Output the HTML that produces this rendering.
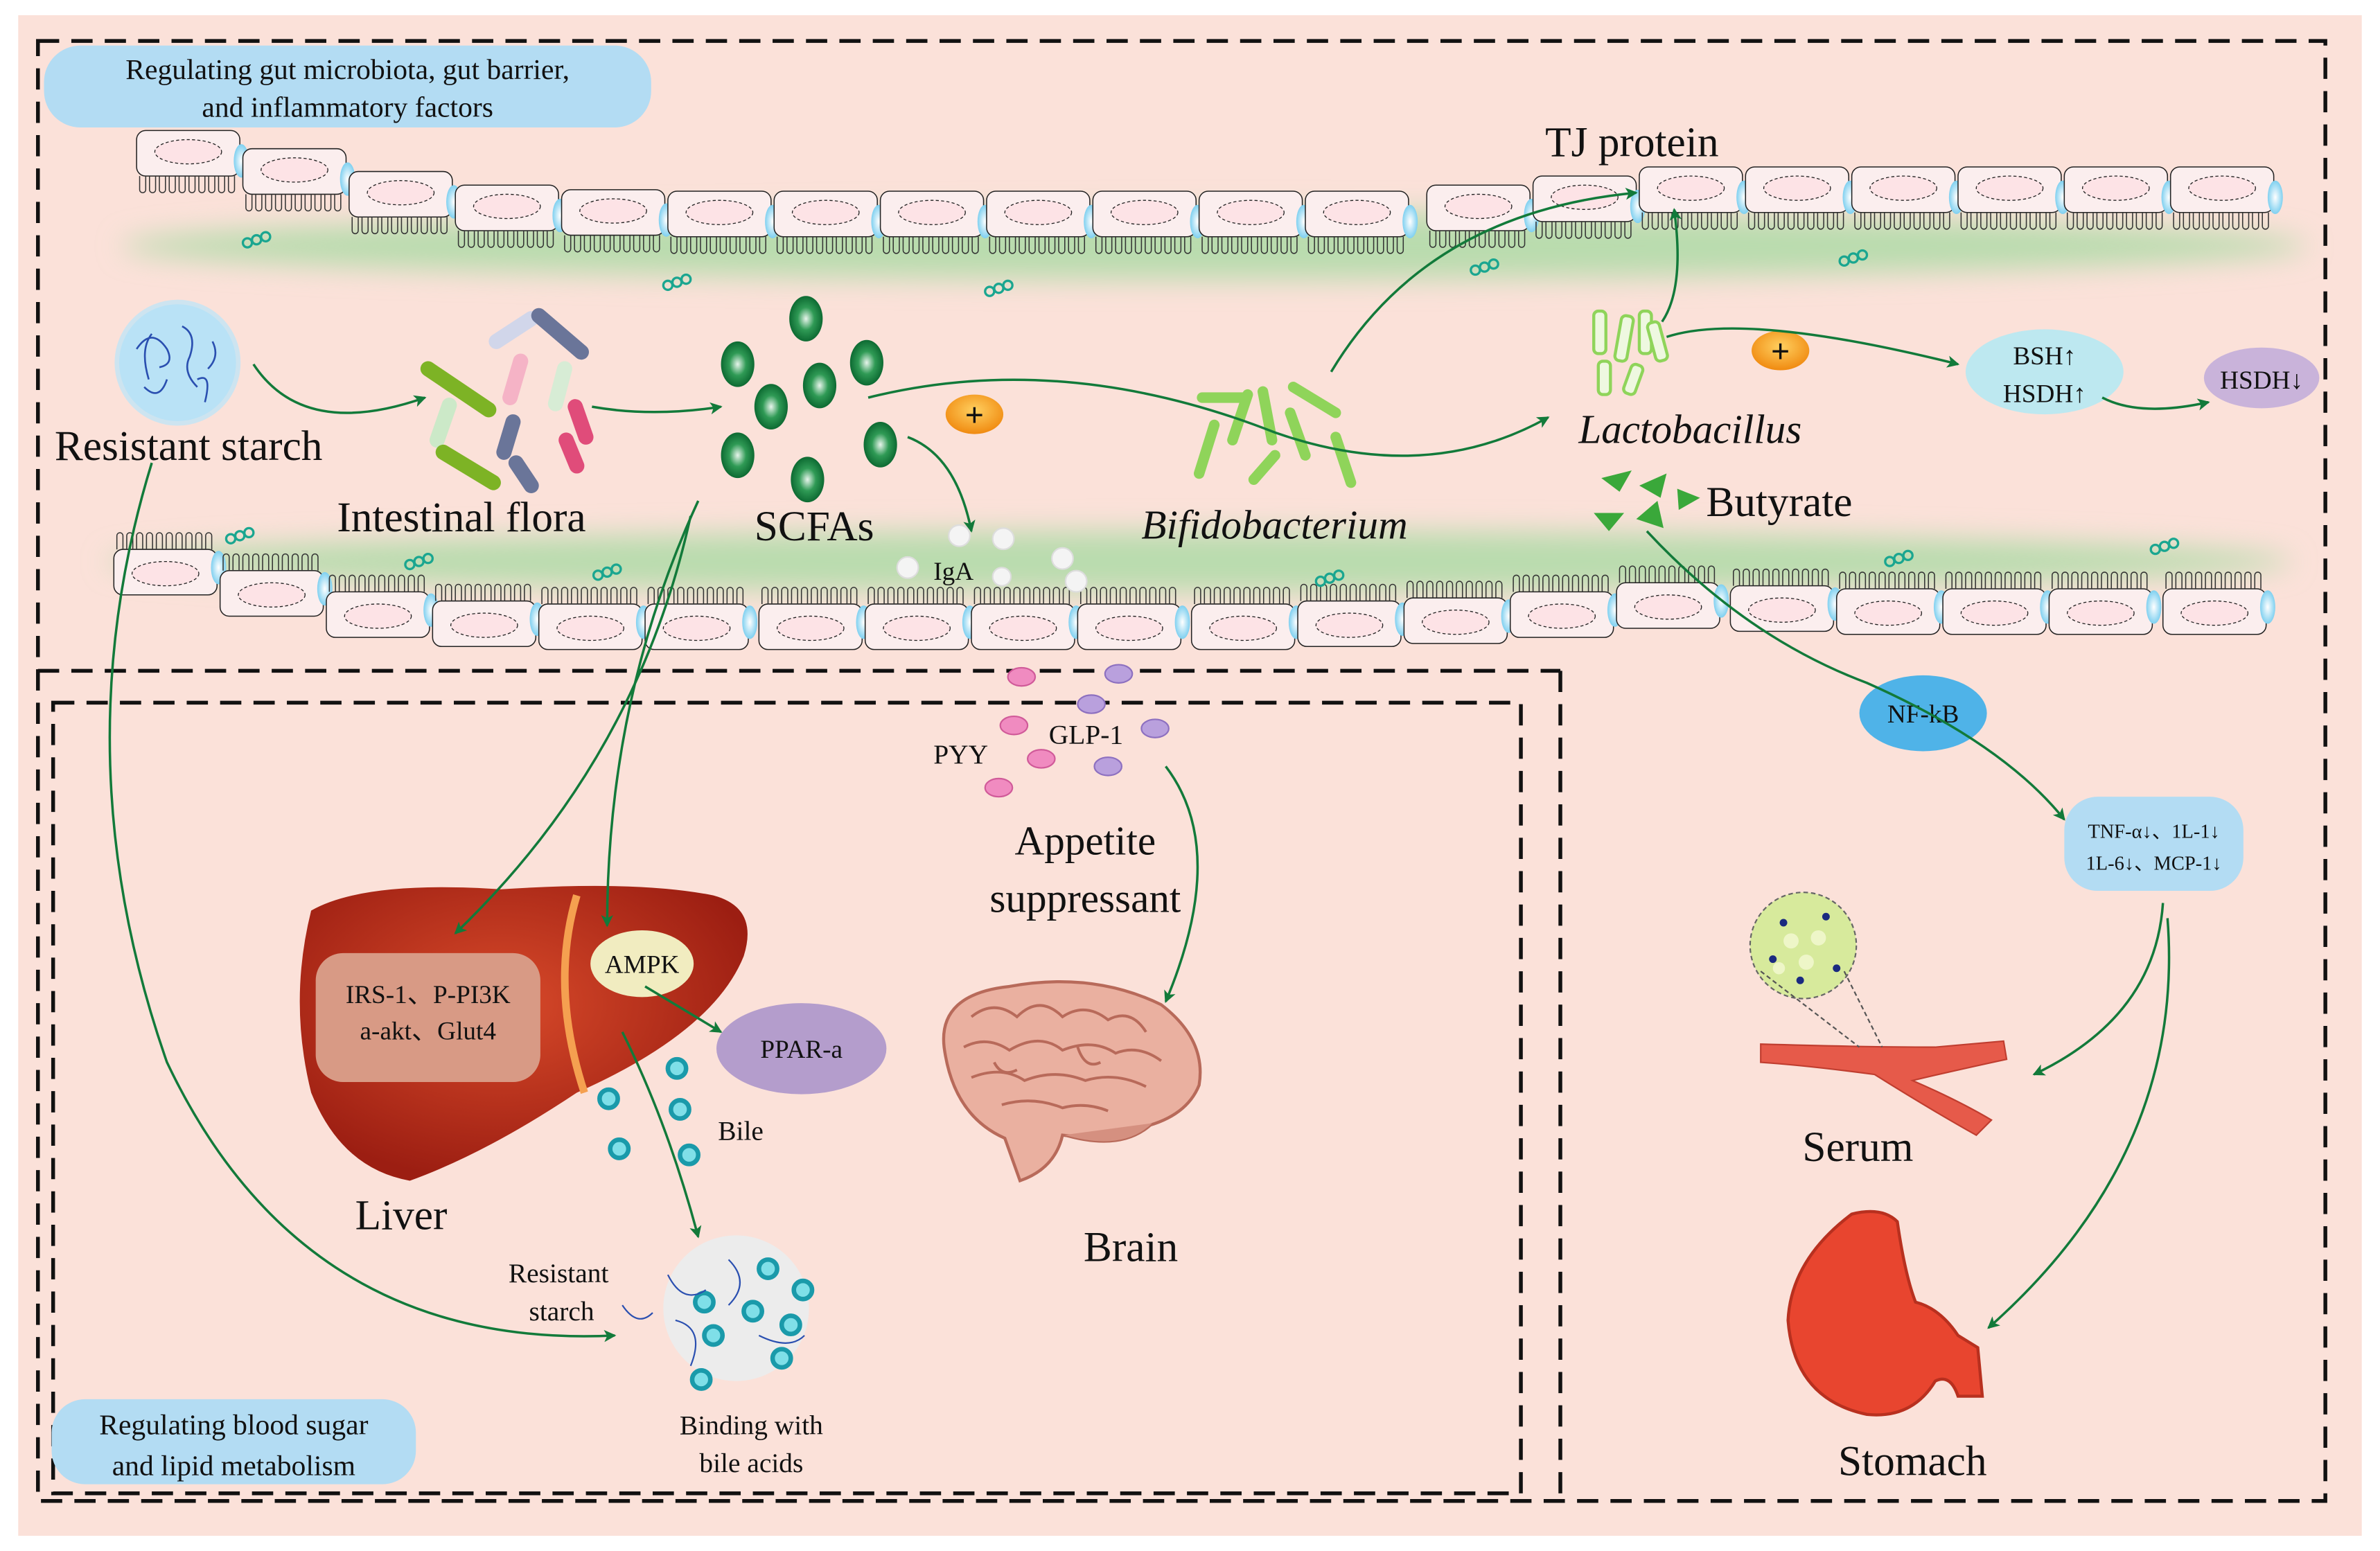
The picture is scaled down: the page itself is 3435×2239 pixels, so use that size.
<!DOCTYPE html>
<html><head><meta charset="utf-8">
<style>
html,body{margin:0;padding:0;background:#fff;}
svg{display:block;}
text{font-family:"Liberation Serif",serif;fill:#111;}
</style></head>
<body>
<svg width="3435" height="2239" viewBox="0 0 1568 1022" preserveAspectRatio="none" xmlns="http://www.w3.org/2000/svg" xmlns:xlink="http://www.w3.org/1999/xlink">
<defs>
<filter id="bl" x="-20%" y="-100%" width="140%" height="300%"><feGaussianBlur stdDeviation="9"/></filter>
<radialGradient id="gd" cx="50%" cy="50%" r="50%"><stop offset="0" stop-color="#e8f5ec"/><stop offset="0.5" stop-color="#2f9a55"/><stop offset="1" stop-color="#0d6a32"/></radialGradient>
<radialGradient id="bo" cx="50%" cy="50%" r="50%"><stop offset="0" stop-color="#ffffff"/><stop offset="1" stop-color="#7fd0f0"/></radialGradient>
<radialGradient id="or" cx="50%" cy="40%" r="60%"><stop offset="0" stop-color="#ffd060"/><stop offset="1" stop-color="#f08a10"/></radialGradient>
<radialGradient id="liv" cx="45%" cy="40%" r="60%"><stop offset="0" stop-color="#d84a2a"/><stop offset="1" stop-color="#9c1e12"/></radialGradient>
<marker id="ar" markerWidth="8" markerHeight="8" refX="7" refY="4" orient="auto" markerUnits="userSpaceOnUse"><path d="M0,0 L8,4 L0,8 L2,4Z" fill="#127a3a"/></marker>
<g id="cd">
<rect x="0" y="0" width="68" height="30" rx="6" fill="#fbeeee" stroke="#222" stroke-width="0.7"/>
<ellipse cx="34" cy="14" rx="22" ry="8" fill="#fde3e6" stroke="#222" stroke-width="0.6" stroke-dasharray="2,1.5"/>
<path d="M2,30 v9 a2,2 0 0 0 4,0 v-9 m2.5,0 v9 a2,2 0 0 0 4,0 v-9 m2.5,0 v9 a2,2 0 0 0 4,0 v-9 m2.5,0 v9 a2,2 0 0 0 4,0 v-9 m2.5,0 v9 a2,2 0 0 0 4,0 v-9 m2.5,0 v9 a2,2 0 0 0 4,0 v-9 m2.5,0 v9 a2,2 0 0 0 4,0 v-9 m2.5,0 v9 a2,2 0 0 0 4,0 v-9 m2.5,0 v9 a2,2 0 0 0 4,0 v-9 m2.5,0 v9 a2,2 0 0 0 4,0 v-9" fill="none" stroke="#333" stroke-width="0.7"/>
<ellipse cx="69" cy="20" rx="5" ry="11" fill="url(#bo)"/>
</g>
<g id="cu">
<rect x="0" y="0" width="68" height="30" rx="6" fill="#fbeeee" stroke="#222" stroke-width="0.7"/>
<ellipse cx="34" cy="16" rx="22" ry="8" fill="#fde3e6" stroke="#222" stroke-width="0.6" stroke-dasharray="2,1.5"/>
<path d="M2,0 v-9 a2,2 0 0 1 4,0 v9 m2.5,0 v-9 a2,2 0 0 1 4,0 v9 m2.5,0 v-9 a2,2 0 0 1 4,0 v9 m2.5,0 v-9 a2,2 0 0 1 4,0 v9 m2.5,0 v-9 a2,2 0 0 1 4,0 v9 m2.5,0 v-9 a2,2 0 0 1 4,0 v9 m2.5,0 v-9 a2,2 0 0 1 4,0 v9 m2.5,0 v-9 a2,2 0 0 1 4,0 v9 m2.5,0 v-9 a2,2 0 0 1 4,0 v9 m2.5,0 v-9 a2,2 0 0 1 4,0 v9" fill="none" stroke="#333" stroke-width="0.7"/>
<ellipse cx="69" cy="12" rx="5" ry="11" fill="url(#bo)"/>
</g>
<g id="cc" fill="none" stroke="#1aa690" stroke-width="1.5"><circle cx="0" cy="0" r="3"/><circle cx="6" cy="-2" r="3"/><circle cx="12" cy="-4" r="3"/></g>
</defs>
<rect x="0" y="0" width="1568" height="1022" fill="#fff"/>
<rect x="12" y="10" width="1544" height="1002" fill="#fbe1d9"/>

<ellipse cx="800" cy="162" rx="720" ry="22" fill="#b9dcae" filter="url(#bl)"/>
<ellipse cx="790" cy="370" rx="720" ry="20" fill="#b9dcae" filter="url(#bl)"/>

<use xlink:href="#cd" x="90" y="86"/>
<use xlink:href="#cd" x="160" y="98"/>
<use xlink:href="#cd" x="230" y="113"/>
<use xlink:href="#cd" x="300" y="122"/>
<use xlink:href="#cd" x="370" y="125"/>
<use xlink:href="#cd" x="440" y="126"/>
<use xlink:href="#cd" x="510" y="126"/>
<use xlink:href="#cd" x="580" y="126"/>
<use xlink:href="#cd" x="650" y="126"/>
<use xlink:href="#cd" x="720" y="126"/>
<use xlink:href="#cd" x="790" y="126"/>
<use xlink:href="#cd" x="860" y="126"/>
<use xlink:href="#cd" x="940" y="122"/>
<use xlink:href="#cd" x="1010" y="116"/>
<use xlink:href="#cd" x="1080" y="110"/>
<use xlink:href="#cd" x="1150" y="110"/>
<use xlink:href="#cd" x="1220" y="110"/>
<use xlink:href="#cd" x="1290" y="110"/>
<use xlink:href="#cd" x="1360" y="110"/>
<use xlink:href="#cd" x="1430" y="110"/>
<use xlink:href="#cu" x="75" y="362"/>
<use xlink:href="#cu" x="145" y="376"/>
<use xlink:href="#cu" x="215" y="390"/>
<use xlink:href="#cu" x="285" y="396"/>
<use xlink:href="#cu" x="355" y="398"/>
<use xlink:href="#cu" x="425" y="398"/>
<use xlink:href="#cu" x="500" y="398"/>
<use xlink:href="#cu" x="570" y="398"/>
<use xlink:href="#cu" x="640" y="398"/>
<use xlink:href="#cu" x="710" y="398"/>
<use xlink:href="#cu" x="785" y="398"/>
<use xlink:href="#cu" x="855" y="396"/>
<use xlink:href="#cu" x="925" y="394"/>
<use xlink:href="#cu" x="995" y="390"/>
<use xlink:href="#cu" x="1065" y="384"/>
<use xlink:href="#cu" x="1140" y="386"/>
<use xlink:href="#cu" x="1210" y="388"/>
<use xlink:href="#cu" x="1280" y="388"/>
<use xlink:href="#cu" x="1350" y="388"/>
<use xlink:href="#cu" x="1425" y="388"/>
<use xlink:href="#cc" x="163" y="160"/>
<use xlink:href="#cc" x="440" y="188"/>
<use xlink:href="#cc" x="652" y="192"/>
<use xlink:href="#cc" x="972" y="178"/>
<use xlink:href="#cc" x="1215" y="172"/>
<use xlink:href="#cc" x="152" y="355"/>
<use xlink:href="#cc" x="270" y="372"/>
<use xlink:href="#cc" x="394" y="379"/>
<use xlink:href="#cc" x="870" y="383"/>
<use xlink:href="#cc" x="1245" y="370"/>
<use xlink:href="#cc" x="1420" y="362"/>

<g fill="none" stroke="#111" stroke-width="2.5" stroke-dasharray="14,8">
<rect x="25" y="27" width="1507" height="962"/>
<line x1="25" y1="442" x2="1028" y2="442"/>
<line x1="1028" y1="442" x2="1028" y2="989"/>
<rect x="35" y="463" width="967" height="521"/>
</g>

<rect x="29" y="30" width="400" height="54" rx="24" fill="#b3dcf3"/>
<text x="229" y="52" font-size="19" text-anchor="middle">Regulating gut microbiota, gut barrier,</text>
<text x="229" y="77" font-size="19" text-anchor="middle">and inflammatory factors</text>
<rect x="34" y="922" width="240" height="56" rx="22" fill="#b3dcf3"/>
<text x="154" y="945" font-size="19" text-anchor="middle">Regulating blood sugar</text>
<text x="154" y="972" font-size="19" text-anchor="middle">and lipid metabolism</text>

<circle cx="117" cy="239" r="40" fill="#b9e2f6" stroke="#cde4f0" stroke-width="3"/>
<path d="M90,230 q10,-15 20,0 q5,10 -5,12 M120,215 q10,5 5,20 q-5,10 5,20 M95,255 q10,10 15,-5 M130,250 q10,-5 5,15 M100,220 q-8,10 -2,30 M140,225 q5,10 -3,18" stroke="#2a4fb0" fill="none" stroke-width="1.2"/>
<text x="36" y="303" font-size="28">Resistant starch</text>

<g stroke-linecap="round" fill="none">
<line x1="282" y1="243" x2="322" y2="270" stroke="#7db325" stroke-width="10"/>
<line x1="327" y1="225" x2="350" y2="210" stroke="#d1d6ea" stroke-width="10"/>
<line x1="355" y1="208" x2="383" y2="232" stroke="#6a7599" stroke-width="10"/>
<line x1="343" y1="238" x2="336" y2="262" stroke="#f5b3c6" stroke-width="10"/>
<line x1="372" y1="243" x2="366" y2="266" stroke="#d7ecd5" stroke-width="10"/>
<line x1="296" y1="267" x2="288" y2="290" stroke="#cce9c8" stroke-width="10"/>
<line x1="338" y1="278" x2="332" y2="298" stroke="#6a7599" stroke-width="10"/>
<line x1="379" y1="268" x2="386" y2="288" stroke="#e04c7a" stroke-width="10"/>
<line x1="373" y1="290" x2="380" y2="307" stroke="#e04c7a" stroke-width="10"/>
<line x1="292" y1="298" x2="325" y2="318" stroke="#7db325" stroke-width="10"/>
<line x1="340" y1="305" x2="350" y2="320" stroke="#6a7599" stroke-width="10"/>
</g>
<text x="222" y="350" font-size="28">Intestinal flora</text>

<g fill="url(#gd)">
<ellipse cx="531" cy="210" rx="11" ry="15"/>
<ellipse cx="486" cy="240" rx="11" ry="15"/>
<ellipse cx="571" cy="239" rx="11" ry="15"/>
<ellipse cx="540" cy="254" rx="11" ry="15"/>
<ellipse cx="508" cy="268" rx="11" ry="15"/>
<ellipse cx="486" cy="300" rx="11" ry="15"/>
<ellipse cx="580" cy="293" rx="11" ry="15"/>
<ellipse cx="532" cy="316" rx="11" ry="15"/>
</g>
<text x="497" y="356" font-size="28">SCFAs</text>
<ellipse cx="642" cy="273" rx="19" ry="13" fill="url(#or)"/>
<text x="642" y="281" font-size="22" text-anchor="middle" font-weight="bold">+</text>
<ellipse cx="1173" cy="231" rx="19" ry="13" fill="url(#or)"/>
<text x="1173" y="239" font-size="22" text-anchor="middle" font-weight="bold">+</text>

<g fill="#f4f4f4" stroke="#ddd"><circle cx="632" cy="353" r="7"/><circle cx="661" cy="355" r="7"/><circle cx="598" cy="374" r="7"/><circle cx="700" cy="368" r="7"/><circle cx="709" cy="383" r="7"/><circle cx="660" cy="380" r="6"/></g>
<text x="615" y="382" font-size="17">IgA</text>

<g stroke="#8fd45a" stroke-width="7" stroke-linecap="round" fill="none">
<line x1="792" y1="262" x2="820" y2="262"/><line x1="800" y1="280" x2="790" y2="312"/>
<line x1="822" y1="260" x2="812" y2="290"/><line x1="832" y1="258" x2="838" y2="290"/>
<line x1="852" y1="255" x2="880" y2="272"/><line x1="850" y1="272" x2="860" y2="300"/>
<line x1="880" y1="288" x2="890" y2="318"/><line x1="840" y1="300" x2="826" y2="316"/>
</g>
<text x="752" y="355" font-size="27" font-style="italic">Bifidobacterium</text>

<g fill="#eef8e0" stroke="#8fd45a" stroke-width="2">
<rect x="1050" y="205" width="8" height="28" rx="3"/><rect x="1066" y="208" width="8" height="30" rx="3" transform="rotate(10 1070 223)"/>
<rect x="1080" y="205" width="8" height="28" rx="3"/><rect x="1088" y="212" width="8" height="26" rx="3" transform="rotate(-15 1092 225)"/>
<rect x="1053" y="238" width="8" height="22" rx="3"/><rect x="1072" y="240" width="8" height="20" rx="3" transform="rotate(20 1076 250)"/>
</g>
<text x="1040" y="292" font-size="27" font-style="italic">Lactobacillus</text>

<g fill="#3aa83a"><path d="M1055,315 l20,-5 l-8,14Z"/><path d="M1080,320 l18,-8 l-4,16Z"/><path d="M1050,338 l20,0 l-10,12Z"/><path d="M1078,342 l14,-12 l4,18Z"/><path d="M1105,322 l15,6 l-14,8Z"/></g>
<text x="1124" y="340" font-size="28">Butyrate</text>
<text x="1018" y="103" font-size="28">TJ protein</text>

<ellipse cx="1347" cy="245" rx="52" ry="28" fill="#bde8f0"/>
<text x="1347" y="240" font-size="17" text-anchor="middle">BSH↑</text>
<text x="1347" y="265" font-size="17" text-anchor="middle">HSDH↑</text>
<ellipse cx="1490" cy="249" rx="38" ry="20" fill="#c9b3da"/>
<text x="1490" y="256" font-size="17" text-anchor="middle">HSDH↓</text>

<ellipse cx="1267" cy="470" rx="42" ry="25" fill="#4fb3e8"/>
<text x="1267" y="476" font-size="17" text-anchor="middle">NF-kB</text>
<rect x="1360" y="525" width="118" height="62" rx="22" fill="#b3dcf3"/>
<text x="1419" y="552" font-size="13" text-anchor="middle">TNF-α↓、1L-1↓</text>
<text x="1419" y="573" font-size="13" text-anchor="middle">1L-6↓、MCP-1↓</text>

<g fill="#f08bc0" stroke="#d05a99"><ellipse cx="673" cy="446" rx="9" ry="6"/><ellipse cx="668" cy="478" rx="9" ry="6"/><ellipse cx="686" cy="500" rx="9" ry="6"/><ellipse cx="658" cy="519" rx="9" ry="6"/></g>
<g fill="#b9a0dd" stroke="#8d70c0"><ellipse cx="737" cy="444" rx="9" ry="6"/><ellipse cx="719" cy="464" rx="9" ry="6"/><ellipse cx="761" cy="480" rx="9" ry="6"/><ellipse cx="730" cy="505" rx="9" ry="6"/></g>
<text x="615" y="503" font-size="18">PYY</text>
<text x="691" y="490" font-size="18">GLP-1</text>
<text x="715" y="563" font-size="27" text-anchor="middle">Appetite</text>
<text x="715" y="601" font-size="27" text-anchor="middle">suppressant</text>

<path d="M205,600 Q240,580 330,586 Q420,580 470,590 Q500,598 490,630 Q470,680 380,720 Q320,760 270,778 Q225,770 205,720 Q190,660 205,600Z" fill="url(#liv)"/>
<path d="M380,590 Q362,650 385,720" stroke="#f5a050" stroke-width="5" fill="none"/>
<rect x="208" y="628" width="148" height="85" rx="18" fill="#d89a85"/>
<text x="282" y="661" font-size="17" text-anchor="middle">IRS-1、P-PI3K</text>
<text x="282" y="685" font-size="17" text-anchor="middle">a-akt、Glut4</text>
<ellipse cx="423" cy="635" rx="34" ry="22" fill="#f1ecc0"/>
<text x="423" y="641" font-size="17" text-anchor="middle">AMPK</text>
<ellipse cx="528" cy="691" rx="56" ry="30" fill="#b49dcc"/>
<text x="528" y="697" font-size="17" text-anchor="middle">PPAR-a</text>
<text x="234" y="810" font-size="28">Liver</text>
<g fill="#7fdfe8" stroke="#1a9aaa" stroke-width="3"><circle cx="446" cy="704" r="6"/><circle cx="401" cy="724" r="6"/><circle cx="448" cy="731" r="6"/><circle cx="408" cy="757" r="6"/><circle cx="454" cy="761" r="6"/></g>
<text x="473" y="751" font-size="18">Bile</text>

<circle cx="485" cy="862" r="48" fill="#ececec"/>
<g fill="#7fdfe8" stroke="#1a9aaa" stroke-width="3"><circle cx="464" cy="858" r="6"/><circle cx="506" cy="836" r="6"/><circle cx="496" cy="864" r="6"/><circle cx="529" cy="850" r="6"/><circle cx="470" cy="880" r="6"/><circle cx="521" cy="873" r="6"/><circle cx="462" cy="909" r="6"/><circle cx="515" cy="895" r="6"/></g>
<path d="M440,840 q10,20 25,10 M480,830 q15,15 0,30 M445,870 q20,5 10,30 M500,880 q20,10 30,0 M410,860 q10,15 20,5" stroke="#2a4fb0" fill="none"/>
<text x="368" y="845" font-size="18" text-anchor="middle">Resistant</text>
<text x="370" y="870" font-size="18" text-anchor="middle">starch</text>
<text x="495" y="945" font-size="18" text-anchor="middle">Binding with</text>
<text x="495" y="970" font-size="18" text-anchor="middle">bile acids</text>

<path d="M622,690 Q618,655 665,650 Q720,640 765,662 Q795,685 790,715 Q780,740 740,745 Q715,750 700,748 Q695,770 672,778 L662,750 Q628,735 622,690Z" fill="#eab0a0" stroke="#b86a5a" stroke-width="2"/>
<path d="M640,670 q15,-12 30,0 q15,-15 30,0 q15,-10 30,2 q15,-8 25,8 M635,690 q15,-8 30,2 q20,-12 35,0 q20,-8 35,2 q15,-6 30,5 M640,710 q20,-8 35,2 q20,-8 40,0 q20,-6 40,4 M660,728 q20,-6 40,2 q15,-4 30,2 M655,700 q5,10 15,5 M710,690 q5,15 15,10" stroke="#b86a5a" fill="none" stroke-width="1.8"/>
<path d="M700,748 Q740,760 760,740" fill="#d59080" stroke="#b86a5a"/>
<text x="745" y="831" font-size="28" text-anchor="middle">Brain</text>

<path d="M1160,688 Q1230,690 1275,690 L1320,686 L1322,698 Q1285,706 1260,712 Q1290,725 1312,738 L1302,748 Q1270,730 1235,708 Q1190,702 1160,700Z" fill="#e65a4a" stroke="#c03e30"/>
<circle cx="1188" cy="623" r="35" fill="#d7ea9c" stroke="#666" stroke-dasharray="3,2"/>
<g fill="#eef6c8"><circle cx="1180" cy="620" r="5"/><circle cx="1198" cy="618" r="5"/><circle cx="1190" cy="634" r="5"/><circle cx="1172" cy="638" r="4"/></g>
<g fill="#1a2a80"><circle cx="1175" cy="608" r="2.5"/><circle cx="1203" cy="604" r="2.5"/><circle cx="1210" cy="638" r="2.5"/><circle cx="1186" cy="646" r="2.5"/><circle cx="1168" cy="632" r="2.5"/></g>
<path d="M1160,640 L1225,690 M1215,640 L1240,690" stroke="#555" stroke-dasharray="3,2"/>
<text x="1224" y="765" font-size="28" text-anchor="middle">Serum</text>

<path d="M1220,800 Q1240,795 1250,805 Q1255,840 1262,858 Q1278,862 1290,880 L1303,888 L1306,920 L1290,920 Q1285,905 1275,910 Q1260,935 1230,932 Q1182,922 1178,870 Q1180,830 1220,800Z" fill="#e8452f" stroke="#b8301f" stroke-width="2"/>
<text x="1260" y="972" font-size="28" text-anchor="middle">Stomach</text>

<g fill="none" stroke="#127a3a" stroke-width="1.6" marker-end="url(#ar)">
<path d="M167,240 Q200,290 280,262"/>
<path d="M390,268 Q430,275 475,268"/>
<path d="M572,262 Q700,230 840,285 Q940,320 1020,275"/>
<path d="M598,288 Q630,300 640,350"/>
<path d="M877,245 Q940,140 1078,127"/>
<path d="M1095,212 Q1110,190 1103,138"/>
<path d="M1098,222 Q1150,205 1290,240"/>
<path d="M1385,262 Q1410,275 1455,265"/>
<path d="M1085,350 Q1150,420 1230,450 Q1320,490 1360,540"/>
<path d="M460,330 Q400,460 400,610"/>
<path d="M455,340 Q420,500 300,615"/>
<path d="M425,650 Q450,665 475,680"/>
<path d="M410,680 Q440,740 460,815"/>
<path d="M100,305 Q40,500 110,700 Q200,890 405,880"/>
<path d="M768,505 Q810,560 768,660"/>
<path d="M1425,595 Q1420,670 1340,708"/>
<path d="M1428,605 Q1440,760 1310,875"/>
</g>
</svg>
</body></html>
